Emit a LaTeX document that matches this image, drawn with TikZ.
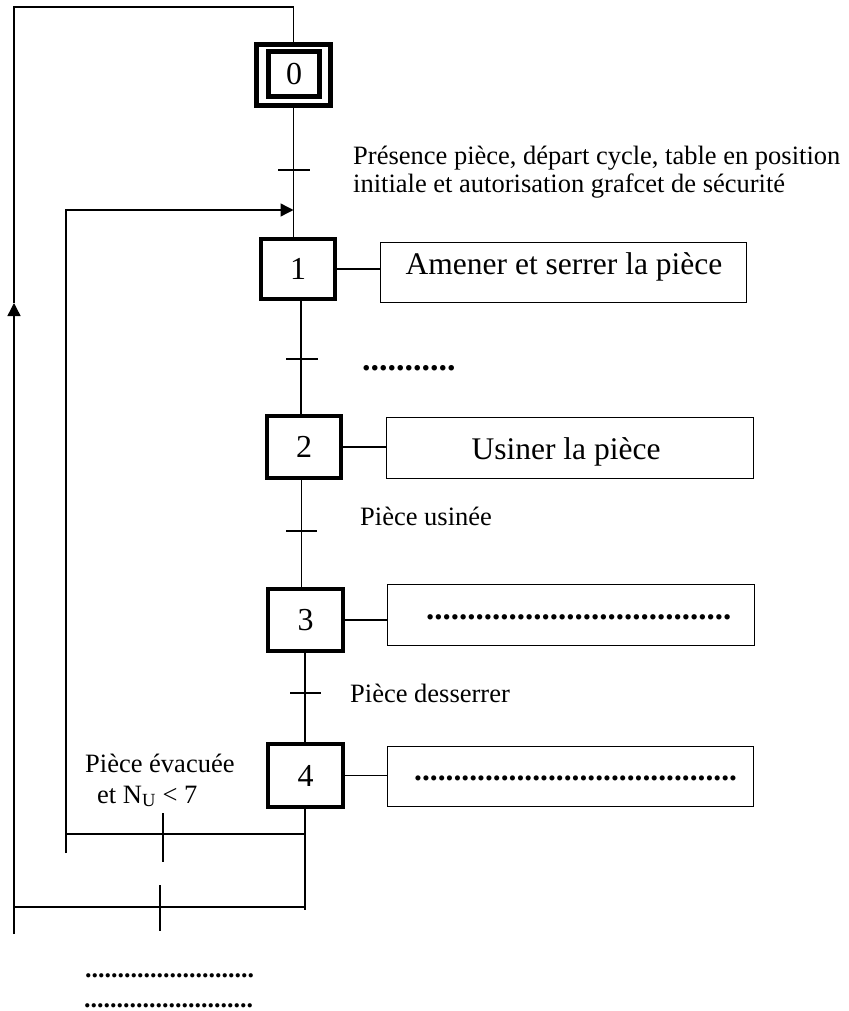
\documentclass[tikz,border=0pt]{standalone}
\usepackage{fontspec}
\setmainfont{Liberation Serif}
\usetikzlibrary{arrows.meta}
\tikzset{
  ln/.style={line width=1.4pt},
  tick/.style={line width=1.6pt},
  stepbox/.style={draw, line width=4.4pt, inner sep=0pt, font=\fontsize{32}{34}\selectfont},
  actbox/.style={draw, line width=1.3pt, inner sep=0pt},
  acttext/.style={inner sep=0pt, anchor=base, font=\fontsize{31.5}{34}\selectfont},
  lbl/.style={inner sep=0pt, anchor=base west, font=\fontsize{26.5}{28}\selectfont},
  dotrow/.style={inner sep=0pt, anchor=base west, font=\bfseries\fontsize{#1}{#1}\selectfont},
  arr/.style={-{Triangle[length=13pt,width=13pt]}},
}
\begin{document}
\begin{tikzpicture}[x=1pt,y=-1pt]
\path[use as bounding box] (0,0) rectangle (848,1011);

% steps
\node[stepbox, minimum width=74pt, minimum height=61pt] (s0o) at (293.5,75) {};
\node[stepbox, minimum width=51pt, minimum height=45pt] (s0) at (294,74) {0};
\node[stepbox, minimum width=74pt, minimum height=60pt] (s1) at (298,269) {1};
\node[stepbox, minimum width=74pt, minimum height=62pt] (s2) at (304,447) {2};
\node[stepbox, minimum width=75pt, minimum height=62pt] (s3) at (305.5,620) {3};
\node[stepbox, minimum width=75pt, minimum height=63pt] (s4) at (305.5,775.5) {4};

% actions
\node[actbox, minimum width=365.7pt, minimum height=59.7pt] (a1) at (563.5,272.5) {};
\node[acttext] (a1t) at (564,274) {Amener et serrer la pièce};
\node[actbox, minimum width=366.7pt, minimum height=60.7pt] (a2) at (570,448) {};
\node[acttext] (a2t) at (566,459) {Usiner la pièce};
\node[actbox, minimum width=366.7pt, minimum height=60.7pt] (a3) at (571,615) {};
\node[dotrow=33] (a3t) at (426,619) {.....................................};
\node[actbox, minimum width=365.7pt, minimum height=59.7pt] (a4) at (570.5,776.5) {};
\node[dotrow=31.5] (a4t) at (414,780) {.........................................};

\draw[ln] (s1.east) -- (a1.west |- s1.east);
\draw[ln] (s2.east) -- (a2.west |- s2.east);
\draw[ln] (s3.east) -- (a3.west |- s3.east);
\draw[ln] (s4.east) -- (a4.west |- s4.east);

% coordinates
\coordinate (tl) at (14,7);
\coordinate (tr) at (293.5,7);
\coordinate (arrL) at (14,303);
\coordinate (bl) at (14,934);
\coordinate (jn1) at (293.5,210);
\coordinate (lx) at (66,210);
\coordinate (lb) at (66,853);
\coordinate (x12) at (301,0);
\coordinate (x23) at (301.5,0);
\coordinate (x34) at (305,0);
\coordinate (h1l) at (66,834);
\coordinate (h1r) at (305,834);
\coordinate (h2l) at (14,907);
\coordinate (h2r) at (305,907);
\coordinate (rb) at (305,910);

% main chain
\draw[ln] (s0o.north) -- (tr) -- (tl) -- (arrL);
\draw[ln,arr] (bl) -- (arrL);
\draw[ln] (s0o.south) -- (s1.north -| s0o.south);
\draw[ln] (s1.south -| x12) -- (s2.north -| x12);
\draw[ln] (s2.south -| x23) -- (s3.north -| x23);
\draw[ln] (s3.south -| x34) -- (s4.north -| x34);
\draw[ln] (s4.south -| x34) -- (rb);

% loop to step 1
\draw[ln,arr] (lb) -- (lx) -- (jn1);
\draw[ln] (h1l) -- (h1r);
\draw[ln] (h2l) -- (h2r);

% transitions
\draw[tick] (278,170) -- (310,170);
\draw[tick] (286,359) -- (318,359);
\draw[tick] (286,531) -- (317,531);
\draw[tick] (290,693) -- (321,693);
\draw[line width=2.2pt] (163,813) -- (163,862);
\draw[line width=2pt] (160,885) -- (160,931);

% receptivities
\node[lbl] (r01a) at (353,165) {Présence pièce, départ cycle, table en position};
\node[lbl] (r01b) at (353,193) {initiale et autorisation grafcet de sécurité};
\node[dotrow=34] (r12) at (362,370) {...........};
\node[lbl] (r23) at (360,525) {Pièce usinée};
\node[lbl] (r34) at (350,702) {Pièce desserrer};
\node[lbl] (r41a) at (85,772) {Pièce évacuée};
\node[lbl] (r41b) at (97,803) {et N\textsubscript{U} < 7};
\node[dotrow=26] (r40a) at (85,977) {..........................};
\node[dotrow=26] (r40b) at (84,1007) {..........................};
\end{tikzpicture}
\end{document}
